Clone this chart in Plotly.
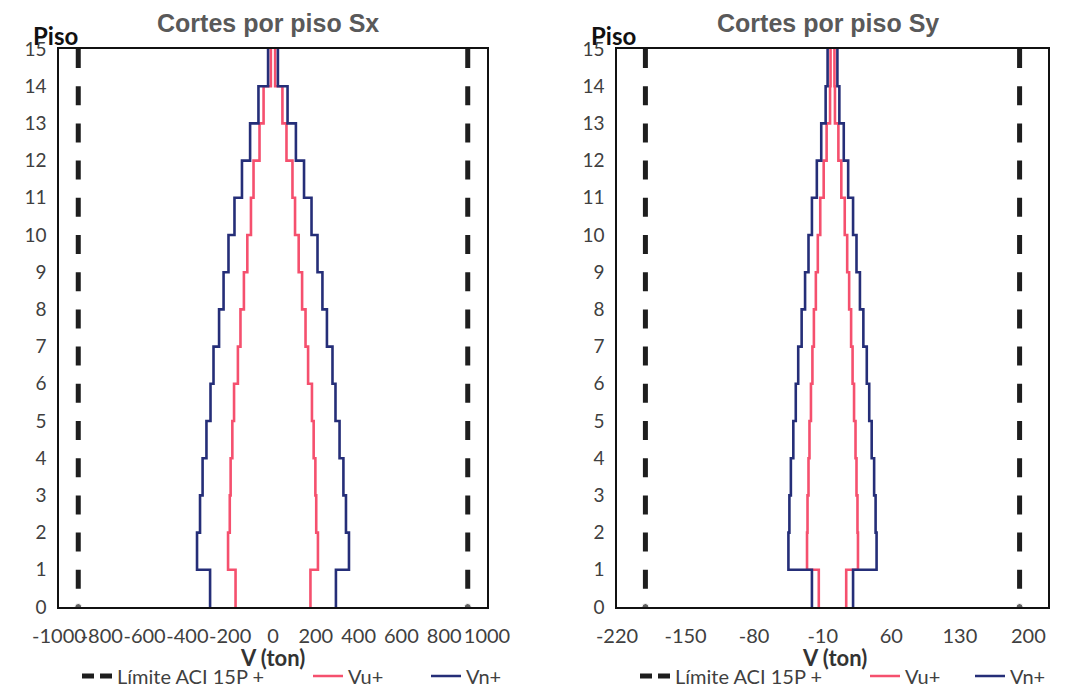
import plotly.graph_objects as go

# ---- data -------------------------------------------------------------
floors = list(range(0, 16))          # Piso 0..15 (storey i spans floor i-1 .. i)

# Sx direction (ton), magnitude per storey 1..15
vn_sx = [294, 355, 341, 329, 311, 292, 278, 252, 231, 208, 180, 145, 107, 68, 23]
vu_sx = [175, 210, 202, 198, 190, 182, 164, 152, 136, 120, 103, 91, 63, 44, 10]
lim_sx = 910

# Sy direction (ton)
vn_sy = [21, 45, 44, 42.5, 40, 37.5, 35, 31.5, 28, 24.5, 21, 16, 11.5, 7, 5]
vu_sy = [14, 26, 25.5, 24.5, 23.5, 22, 20.5, 19, 17, 15, 12.5, 9, 6, 2.5, 2]
lim_sy = 191

x_ticks_sx = [-1000, -800, -600, -400, -200, 0, 200, 400, 600, 800, 1000]
x_range_sx = [-1000, 1000]
x_ticks_sy = [-220, -150, -80, -10, 60, 130, 200]
x_range_sy = [-220, 220]
y_ticks = floors

# ---- styles -----------------------------------------------------------
PINK = "#F5506E"
NAVY = "#252E78"
LIMC = "#1E1E1E"
TXT = "#404040"
FONT = "Lato"

W, H = 1083, 689
px = lambda v: v / W
py = lambda v: 1 - v / H

fig = go.Figure()


def step_xy(vals, sign):
    xs = [sign * v for v in vals] + [sign * vals[-1]]
    return xs, floors


def add_panel(vn, vu, lim, xa, ya, legs):
    # legend sample for the limit
    fig.add_trace(go.Scatter(x=[None], y=[None], mode="lines", name="Límite ACI 15P +",
                             line=dict(color=LIMC, width=5, dash="12px,6px"),
                             xaxis=xa, yaxis=ya, legend=legs[0], showlegend=True))
    for s in (1, -1):
        fig.add_trace(go.Scatter(x=[s * lim, s * lim], y=[floors[-1], floors[0]],
                                 mode="lines+markers",
                                 line=dict(color=LIMC, width=5, dash="19px,18.2px"),
                                 marker=dict(size=[0, 7], color=LIMC),
                                 xaxis=xa, yaxis=ya, showlegend=False,
                                 hoverinfo="skip"))
    for vals, col, name, leg in ((vu, PINK, "Vu+", legs[1]), (vn, NAVY, "Vn+", legs[2])):
        for s in (1, -1):
            xs, ys = step_xy(vals, s)
            fig.add_trace(go.Scatter(x=xs, y=ys, mode="lines", name=name,
                                     line=dict(color=col, width=2.6, shape="vh"),
                                     xaxis=xa, yaxis=ya, legend=leg,
                                     showlegend=(s == 1)))


add_panel(vn_sx, vu_sx, lim_sx, "x", "y", ["legend", "legend2", "legend3"])
add_panel(vn_sy, vu_sy, lim_sy, "x2", "y2", ["legend4", "legend5", "legend6"])

axis_common = dict(showline=True, mirror=True, linecolor="#111111", linewidth=1.5,
                   showgrid=False, zeroline=False, ticks="", automargin=False,
                   tickangle=0)
xfont = dict(family=FONT, size=20, color=TXT)
yfont = dict(family=FONT, size=19, color=TXT)

fig.update_layout(
    width=W, height=H,
    margin=dict(l=0, r=0, t=0, b=0, autoexpand=False),
    paper_bgcolor="white", plot_bgcolor="white",
    xaxis=dict(domain=[px(59), px(487)], range=x_range_sx, tickvals=x_ticks_sx,
               ticktext=[str(v) for v in x_ticks_sx], tickfont=xfont,
               anchor="y", ticklabelstandoff=10, **axis_common),
    yaxis=dict(domain=[py(607), py(49)], range=[0, 15], tickvals=y_ticks,
               tickfont=yfont, anchor="x", ticklabelstandoff=7, **axis_common),
    xaxis2=dict(domain=[px(617), px(1048)], range=x_range_sy, tickvals=x_ticks_sy,
                ticktext=[str(v) for v in x_ticks_sy], tickfont=xfont,
                anchor="y2", ticklabelstandoff=10, **axis_common),
    yaxis2=dict(domain=[py(607), py(49)], range=[0, 15], tickvals=y_ticks,
                tickfont=yfont, anchor="x2", ticklabelstandoff=7, **axis_common),
    showlegend=True,
)

leg_x = {"legend": 77, "legend2": 308, "legend3": 426,
         "legend4": 635, "legend5": 865, "legend6": 970}
for name, x in leg_x.items():
    fig.update_layout({name: dict(orientation="h", x=px(x), y=py(676), xanchor="left",
                                  yanchor="middle", bgcolor="rgba(0,0,0,0)",
                                  font=dict(family=FONT, size=20, color=TXT))})

annos = [
    ("<b>Cortes por piso Sx</b>", 268, 23, "Liberation Sans", 25, "#595959"),
    ("<b>Cortes por piso Sy</b>", 828, 23, "Liberation Sans", 25, "#595959"),
    ("<b>Piso</b>", 55, 35, FONT, 24, "#111111"),
    ("<b>Piso</b>", 613, 35, FONT, 24, "#111111"),
    ("<b>V (ton)</b>", 272, 657, FONT, 22, "#333333"),
    ("<b>V (ton)</b>", 834, 657, FONT, 22, "#333333"),
]
for text, x, y, fam, size, col in annos:
    fig.add_annotation(text=text, x=px(x), y=py(y), xref="paper", yref="paper",
                       showarrow=False, xanchor="center", yanchor="middle",
                       font=dict(family=fam, size=size, color=col))

fig.write_html("out.html")
